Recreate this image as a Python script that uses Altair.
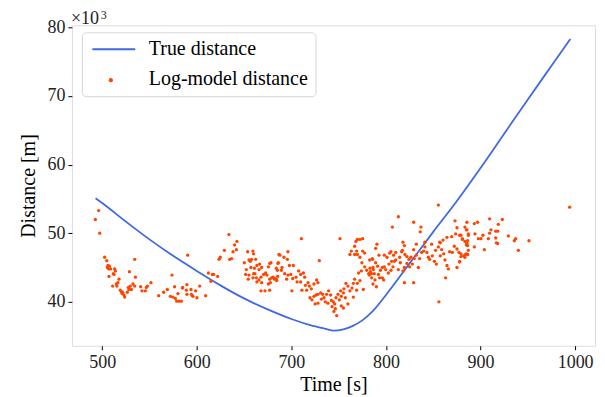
import altair as alt
import pandas as pd

# True distance curve (units: x10^3 m)
true_t = [493, 500, 525, 550, 575, 600, 625, 650, 675, 700, 720, 735, 745, 755, 765, 775, 785, 800, 825, 850, 875, 900, 925, 950, 975, 995]
true_d = [55.1, 54.4, 51.7, 49.1, 46.7, 44.5, 42.4, 40.5, 38.9, 37.5, 36.6, 36.1, 35.8, 36.0, 36.5, 37.3, 38.5, 41.0, 45.6, 50.2, 54.7, 59.5, 64.5, 69.5, 74.4, 78.3]

# Log-model distance estimates
log_t = [
    496.3, 492.8, 497.4, 502.6, 504.8, 506.1, 507.6, 505.5, 506.9, 509.0, 513.2, 514.0, 511.8, 512.5, 507.2,
    534.4, 528.8, 535.1, 517.8, 516.7, 515.0, 515.6, 511.1, 519.2, 520.3, 521.7, 523.0, 523.8, 521.0, 526.6,
    528.3, 527.7, 529.8, 530.9, 532.6, 534.4, 540.7, 542.1, 545.7, 546.7, 547.8, 551.6, 559.7, 565.0, 568.9,
    573.8, 576.6, 572.1, 574.8, 577.4, 578.8, 581.2, 583.7, 580.1, 585.1,
    590.4, 584.8, 589.6, 589.0, 593.9, 598.8, 603.1, 594.3, 589.6, 596.0, 600.2, 595.3, 609.4, 612.3, 616.5,
    617.9, 622.1, 615.0, 634.0, 640.0, 642.5, 629.2, 638.3, 641.9, 634.8, 636.9, 623.5, 624.9,
    650.3, 653.8, 659.4, 660.1, 655.2, 656.7, 658.0, 662.3, 666.5, 663.6, 665.8, 668.6, 652.4, 651.7, 655.2,
    660.1, 657.3, 660.9, 661.5, 663.0, 665.8, 668.6, 667.9, 670.7, 672.8, 674.2, 675.7, 677.1, 678.4, 677.1,
    679.2, 680.6, 682.0, 684.1, 685.5, 684.1, 686.3, 686.9, 667.9, 672.1, 675.7, 677.8, 677.1, 654.4, 659.4, 663.6,
    710.6, 751.4, 729.6, 687.9, 692.2, 696.4, 695.8, 685.8, 690.1, 685.2, 689.4, 697.9, 702.1, 692.9, 696.4,
    699.3, 682.3, 684.5, 695.0, 701.4, 704.9, 707.7, 709.8, 712.7, 714.1, 706.1, 709.8, 700.6, 711.2, 714.8,
    717.6, 719.0, 716.2, 721.1, 723.9, 726.7, 728.1, 719.7, 721.8, 723.9, 726.0, 728.1, 731.0, 733.1, 725.1,
    728.1, 731.7, 734.5, 737.3, 739.4, 741.5, 735.9, 738.7, 742.3, 744.4, 745.8, 743.0, 746.5, 745.0, 747.9,
    747.2, 749.3, 750.7, 752.8, 755.0, 752.1, 755.6, 757.7, 759.8, 757.1, 752.8, 755.0, 759.8, 761.9, 764.1,
    765.5, 766.9, 769.0, 765.5, 769.8, 772.5, 776.1, 771.1, 774.0, 774.6, 777.5, 779.6, 782.5, 784.6, 781.7,
    783.1, 786.7, 772.5, 775.4, 777.5, 766.9, 763.4, 761.9, 766.9, 769.8, 769.0, 768.3, 769.8, 772.5, 775.4, 785.9,
    855.4, 813.1, 829.3, 806.8, 837.0, 836.3, 818.0, 819.5, 817.4, 790.5, 789.1, 832.1, 841.2, 848.3, 856.8,
    860.3, 864.5, 869.5, 873.7, 875.1, 873.0, 877.9, 880.8, 883.5, 885.6, 887.1, 885.6, 887.1, 884.2,
    782.8, 785.6, 789.1, 791.2, 786.3, 783.5, 787.7, 792.0, 793.3, 784.9, 788.4, 786.3, 789.9, 796.2, 797.6,
    794.1, 796.2, 792.6, 798.3, 801.1, 803.9, 805.3, 808.1, 810.3, 806.0, 803.2, 798.3, 799.7, 802.5, 808.9,
    810.3, 807.4, 805.3, 814.5, 815.2, 816.6, 820.1, 822.2, 824.3, 826.4, 822.2, 819.5, 818.0, 813.1, 825.0,
    827.9, 830.0, 832.1, 829.3, 834.3, 819.5, 829.3, 835.6, 837.7, 839.9, 841.2, 843.3, 844.8, 846.2, 849.0,
    851.2, 853.3, 852.5, 855.4, 857.5, 858.9, 861.0, 862.4, 864.5, 866.0, 857.5, 867.3, 870.2, 872.3, 875.1,
    877.2, 877.9, 879.3, 882.1, 885.0, 886.4, 883.5, 875.1, 863.1, 856.0,
    909.6, 923.0, 885.6, 893.4, 896.9, 918.8, 885.0, 911.0, 916.0, 918.1, 909.6, 887.1, 894.1, 902.5, 879.3,
    929.4, 880.8, 897.7, 900.4, 908.2, 916.0, 937.1, 935.7, 951.2, 886.4, 916.7, 918.1, 885.0, 893.4, 904.0,
    940.0, 879.3, 886.4, 883.5, 877.9, 994.2,
]
log_d = [
    53.3, 52.0, 50.0, 46.5, 46.0, 45.3, 45.2, 45.0, 44.8, 44.8, 44.8, 44.5, 44.1, 44.0, 43.7,
    46.2, 44.4, 43.6, 43.3, 42.8, 42.6, 42.3, 42.3, 41.7, 41.5, 41.4, 41.0, 40.7, 41.2, 41.4,
    41.8, 42.1, 42.3, 41.8, 42.6, 42.3, 42.2, 41.6, 41.6, 42.1, 42.3, 42.8, 40.9, 41.4, 41.8,
    43.9, 42.2, 40.8, 40.7, 40.5, 40.1, 40.1, 40.1, 41.2, 42.1,
    46.8, 42.0, 42.5, 41.7, 41.8, 41.6, 42.3, 41.1, 41.1, 40.8, 40.6, 40.9, 40.9, 44.2, 44.0,
    44.0, 43.7, 43.0, 49.8, 48.3, 48.8, 47.5, 47.3, 47.6, 46.2, 46.3, 46.2, 46.5,
    45.7, 47.3, 47.4, 47.0, 46.1, 45.9, 46.2, 46.2, 45.5, 45.3, 44.7, 45.0, 44.7, 44.0, 43.9,
    44.1, 45.0, 44.9, 44.1, 43.5, 43.2, 42.8, 43.6, 44.0, 44.2, 43.9, 45.1, 45.6, 45.7, 43.3,
    43.5, 43.6, 43.4, 43.3, 43.7, 44.9, 45.7, 46.9, 41.6, 41.6, 42.6, 42.8, 41.7, 43.3, 43.5, 42.9,
    49.2, 49.2, 46.0, 46.8, 46.5, 47.3, 46.2, 45.6, 45.0, 44.6, 44.6, 45.3, 45.3, 44.1, 43.9,
    44.0, 43.3, 43.1, 43.3, 43.4, 43.6, 44.5, 44.0, 44.2, 43.6, 42.9, 42.9, 41.6, 41.7, 42.4,
    42.8, 42.3, 41.7, 41.9, 42.6, 43.2, 42.8, 40.6, 40.3, 40.8, 41.0, 41.1, 41.3, 41.1, 39.7,
    39.8, 40.4, 40.6, 41.1, 41.6, 41.0, 40.0, 39.8, 40.2, 40.0, 39.7, 39.3, 39.0, 38.6, 38.0,
    40.6, 41.1, 40.3, 40.8, 41.3, 41.6, 41.9, 42.7, 42.3, 40.6, 39.4, 39.1, 39.7, 41.6, 42.0,
    42.7, 43.3, 41.7, 40.7, 42.7, 43.1, 41.8, 44.2, 44.5, 45.7, 45.1, 44.6, 43.9, 44.1, 44.1,
    44.9, 44.7, 46.5, 47.4, 47.1, 48.1, 47.4, 46.9, 46.9, 46.9, 47.4, 48.8, 49.1, 49.1, 49.2, 46.2,
    54.1, 52.4, 51.6, 50.9, 50.9, 50.2, 48.7, 48.2, 47.5, 48.4, 47.8, 48.4, 48.7, 48.4, 48.7,
    49.0, 49.4, 49.5, 49.9, 50.8, 51.8, 49.7, 49.1, 50.9, 50.5, 49.7, 48.5, 47.5, 46.9,
    46.1, 46.3, 45.7, 45.2, 45.0, 44.4, 44.1, 44.0, 43.5, 43.5, 43.2, 42.6, 42.2, 43.5, 43.2,
    44.6, 45.0, 46.8, 46.8, 46.5, 47.1, 47.3, 46.8, 47.2, 45.9, 45.5, 45.1, 44.7, 44.2, 45.9,
    46.1, 45.1, 44.6, 46.5, 45.7, 47.3, 46.9, 46.6, 46.2, 46.5, 45.6, 45.0, 44.5, 44.7, 45.1,
    45.5, 46.3, 46.8, 47.6, 45.0, 42.8, 42.8, 46.3, 47.2, 47.4, 48.0, 47.2, 46.5, 46.2, 46.7,
    45.9, 45.5, 47.5, 48.0, 48.6, 47.6, 47.0, 46.1, 45.3, 44.8, 46.7, 47.3, 47.2, 48.1, 47.7,
    47.2, 45.9, 46.6, 46.7, 47.0, 48.2, 48.8, 45.0, 43.5, 40.0,
    52.1, 52.0, 51.6, 51.4, 51.6, 51.3, 50.5, 50.5, 50.3, 50.3, 50.0, 49.9, 49.9, 49.7, 49.7,
    49.6, 49.2, 49.2, 49.2, 49.2, 49.3, 49.2, 48.9, 48.9, 48.9, 48.6, 48.5, 48.3, 48.0, 47.6,
    47.5, 47.0, 46.9, 46.5, 45.8, 53.8,
]

series_names = ["True distance", "Log-model distance"]
line_color = "#4169E1"
point_color = "#FF4500"
x_ticks = [500, 600, 700, 800, 900, 1000]
y_ticks = [40, 50, 60, 70, 80]
offset_base = ["×10"]
offset_exp = ["3"]

line_df = pd.DataFrame({"t": true_t, "d": true_d, "series": series_names[0]})
pt_df = pd.DataFrame({"t": log_t, "d": log_d, "series": series_names[1]})

FONT = "Liberation Serif"

# Legend frame + labels come from the line's colour legend (second entry's line hidden);
# the point's own fill legend supplies the dot of the second row.
legend_lines = alt.Legend(
    title=None, orient="none", legendX=10, legendY=7,
    fillColor="white", strokeColor="#d6d6d6", cornerRadius=4, padding=7,
    labelFont=FONT, labelFontSize=20, labelColor="black", labelOffset=25,
    rowPadding=10, symbolType="M-3,0H3", symbolSize=205, symbolStrokeWidth=1.8,
    symbolOffset=15,
)
legend_points = alt.Legend(
    title=None, orient="none", legendX=21, legendY=37, padding=8,
    labelExpr="''", labelFontSize=20, labelOffset=16,
    symbolType="circle", symbolSize=18, symbolStrokeWidth=0,
)

xscale = alt.Scale(domain=[468, 1021], nice=False, zero=False)
yscale = alt.Scale(domain=[33.6, 80.3], nice=False, zero=False)
xaxis = alt.Axis(values=x_ticks, format="d", title="Time [s]", grid=False, domain=False,
                 labelFont=FONT, labelFontSize=18, titleFont=FONT, titleFontSize=20,
                 titleFontWeight="normal", tickSize=4, tickColor="black", labelColor="#222",
                 titleColor="black", labelPadding=4, titlePadding=3, labelFlush=False)
yaxis = alt.Axis(values=y_ticks, format="d", title="Distance [m]", grid=False, domain=False,
                 labelFont=FONT, labelFontSize=18, titleFont=FONT, titleFontSize=20,
                 titleFontWeight="normal", tickSize=4, tickColor="black", labelColor="#222",
                 titleColor="black", labelPadding=3, titlePadding=8, labelFlush=False)

line = alt.Chart(line_df).mark_line(strokeWidth=1.8, interpolate="monotone").encode(
    x=alt.X("t:Q", scale=xscale, axis=xaxis),
    y=alt.Y("d:Q", scale=yscale, axis=yaxis),
    color=alt.Color("series:N", scale=alt.Scale(domain=series_names, range=[line_color, "transparent"]),
                    legend=legend_lines),
)
pts = alt.Chart(pt_df).mark_circle(size=11, opacity=1).encode(
    x=alt.X("t:Q", scale=xscale),
    y=alt.Y("d:Q", scale=yscale),
    fill=alt.Fill("series:N", scale=alt.Scale(domain=[series_names[1]], range=[point_color]),
                  legend=legend_points),
)
exp_base = alt.Chart(pd.DataFrame({"txt": offset_base})).mark_text(
    align="left", baseline="alphabetic", font=FONT, fontSize=18, color="#222"
).encode(x=alt.value(-1), y=alt.value(-1), text="txt:N")
exp_sup = alt.Chart(pd.DataFrame({"txt": offset_exp})).mark_text(
    align="left", baseline="alphabetic", font=FONT, fontSize=12, color="#222"
).encode(x=alt.value(29), y=alt.value(-6), text="txt:N")

chart = alt.layer(line, pts, exp_base, exp_sup).resolve_legend(color="independent", fill="independent").properties(
    width=524, height=321,
    autosize=alt.AutoSizeParams(type="none"),
    padding={"left": 64, "top": 17, "right": 2, "bottom": 50},
).configure_view(stroke="#333", strokeWidth=1.1).configure(background="white")

chart.save("out.html", embed_options={"renderer": "svg", "actions": False})
